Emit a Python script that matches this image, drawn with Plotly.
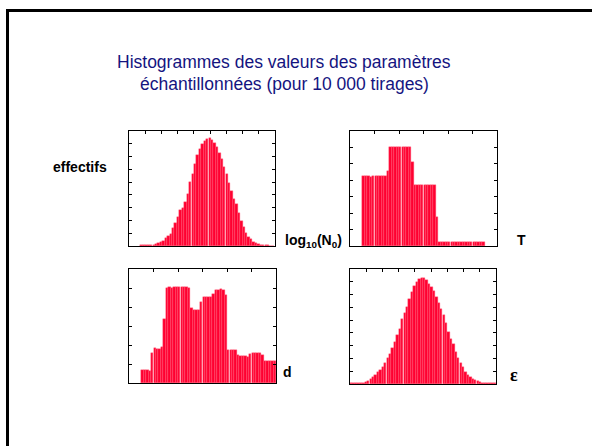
import plotly.graph_objects as go

W, H = 592, 446

# ---- log10(N0): 55 bins of width 0.15 starting at 3.7 ----
logN0_start, logN0_step = 3.7, 0.15
logN0_counts = [2, 2, 3, 3, 4, 4, 6, 11, 17, 21, 30, 38, 47, 70, 90, 112, 141, 150,
                172, 205, 249, 283, 320, 355, 378, 398, 412, 419, 421, 414, 404, 389,
                365, 340, 310, 280, 248, 215, 183, 164, 130, 97, 74, 50, 36, 26, 17,
                11, 7, 5, 3, 2, 2, 1, 1]

# ---- T: 50 bins of width 0.1 starting at 0.5 ----
T_start, T_step = 0.5, 0.1
T_counts = [214, 214, 214, 211, 214, 214, 214, 214, 214, 214,
            228, 300, 300, 300, 300, 300, 300, 300, 300, 300,
            255, 185, 185, 185, 185, 185, 185, 185, 185, 185,
            87, 13, 13, 13, 13, 13, 13, 13, 13, 13,
            13, 13, 13, 13, 13, 13, 13, 13, 13, 13]

# ---- d: 55 bins of width 0.1 starting at 0.5 ----
d_start, d_step = 0.5, 0.1
d_counts = [33, 35, 33, 32, 78, 92, 90, 90, 94, 169,
            249, 252, 251, 252, 252, 252, 252, 253, 252, 249,
            197, 191, 191, 191, 213, 227, 227, 227, 227, 235,
            244, 246, 247, 244, 232, 87, 87, 87, 87, 74,
            70, 70, 70, 69, 76, 80, 80, 80, 80, 74,
            57, 57, 57, 57, 59]

# ---- epsilon: 60 bins of width 0.15 starting at -4.5 ----
eps_start, eps_step = -4.5, 0.15
eps_counts = [2, 2, 3, 3, 4, 5, 8, 13, 19, 26, 37, 46, 55, 65, 82, 100, 116, 139,
              165, 191, 217, 253, 279, 300, 332, 361, 382, 400, 410, 415, 415, 408,
              392, 380, 365, 341, 316, 292, 269, 237, 205, 178, 155, 124, 102, 84,
              65, 48, 37, 27, 20, 14, 10, 7, 5, 4, 3, 3, 2, 3]

panels = [
    # counts, start, step, x range, x dtick, y range, x domain (px), y domain (px, top/bottom)
    (logN0_counts, logN0_start, logN0_step, [3, 12], 1, [0, 450], (129, 275), (131, 246)),
    (T_counts, T_start, T_step, [0, 6], 1, [0, 350], (350, 497), (131, 246)),
    (d_counts, d_start, d_step, [0, 6], 1, [0, 300], (129, 276), (269, 383)),
    (eps_counts, eps_start, eps_step, [-4.5, 4.5], 1, [0, 450], (350, 496), (269, 384)),
]

BAR_RED = "#ff0030"
BAR_EDGE = "#ff5c78"

fig = go.Figure()
for k, (counts, start, step, xr, xdt, yr, (px0, px1), (py0, py1)) in enumerate(panels, 1):
    centres = [start + step * (i + 0.5) for i in range(len(counts))]
    sfx = "" if k == 1 else str(k)
    fig.add_trace(go.Bar(
        x=centres, y=counts, width=step * 0.96,
        marker=dict(color=BAR_RED, line=dict(color=BAR_EDGE, width=0.4)),
        xaxis="x" + sfx, yaxis="y" + sfx, showlegend=False, hoverinfo="skip",
    ))
    common = dict(showgrid=False, zeroline=False, showticklabels=False,
                  showline=True, linecolor="black", linewidth=1,
                  ticks="inside", ticklen=3, tickcolor="black", tickwidth=1)
    fig.layout["xaxis" + sfx] = dict(
        domain=[px0 / W, px1 / W], range=xr, dtick=xdt, tick0=xr[0],
        side="top", mirror=True, anchor="y" + sfx, **common)
    fig.layout["yaxis" + sfx] = dict(
        domain=[1 - py1 / H, 1 - py0 / H], range=yr, dtick=50, tick0=0,
        mirror="ticks", anchor="x" + sfx, **common)

# axis labels and titles
def px_text(text, x, y, size, color="black", family="Liberation Sans, Arial, sans-serif"):
    fig.add_annotation(text=text, x=x / W, y=1 - y / H, xref="paper", yref="paper",
                       showarrow=False, xanchor="center", yanchor="middle",
                       font=dict(size=size, color=color, family=family))

TITLE_BLUE = "#141480"
px_text("Histogrammes des valeurs des paramètres", 284, 61.5, 17.5, TITLE_BLUE)
px_text("échantillonnées (pour 10 000 tirages)", 284.5, 84.5, 17.5, TITLE_BLUE)

px_text("<b>effectifs</b>", 80, 167, 14)
px_text("<b>log<sub>10</sub>(N<sub>0</sub>)</b>", 313, 241, 14)
px_text("<b>T</b>", 521, 240, 14)
px_text("<b>d</b>", 287, 372, 14)
px_text("<b>ε</b>", 514, 375, 18, family="Liberation Serif, Times New Roman, serif")

# outer frame
fig.add_shape(type="rect", xref="paper", yref="paper",
              x0=7.5 / W, x1=1.05, y0=1 - 10.5 / H, y1=-0.05,
              line=dict(color="black", width=3))

fig.update_layout(width=W, height=H, margin=dict(l=0, r=0, t=0, b=0),
                  paper_bgcolor="white", plot_bgcolor="white",
                  bargap=0)

fig.write_html("out.html")
